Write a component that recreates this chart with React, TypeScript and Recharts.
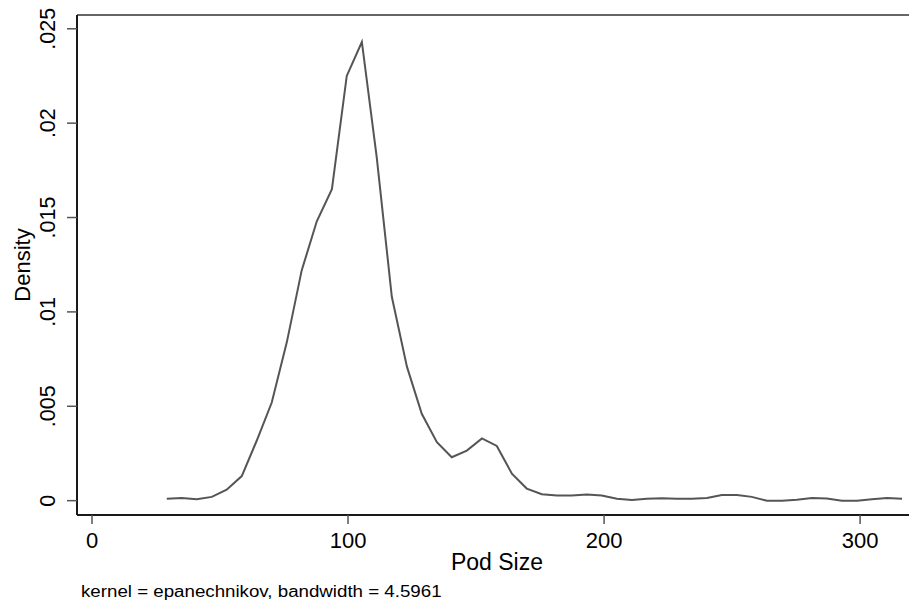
import { LineChart, Line, XAxis, YAxis, ReferenceLine } from 'recharts'

// kernel density estimate, evaluated at 50 points
const podSize = [
  29.2, 35.1, 40.9, 46.8, 52.6, 58.5, 64.4, 70.2, 76.1, 81.9,
  87.8, 93.7, 99.5, 105.4, 111.2, 117.1, 123.0, 128.8, 134.7, 140.5,
  146.4, 152.3, 158.1, 164.0, 169.8, 175.7, 181.6, 187.4, 193.3, 199.1,
  205.0, 210.9, 216.7, 222.6, 228.4, 234.3, 240.2, 246.0, 251.9, 257.7,
  263.6, 269.5, 275.3, 281.2, 287.0, 292.9, 298.8, 304.6, 310.5, 316.4,
]

const density = [
  0.0001, 0.00014, 0.00007, 0.0002, 0.00058, 0.0013, 0.0032, 0.0052, 0.0084, 0.0122,
  0.0148, 0.0165, 0.0225, 0.0243, 0.0182, 0.0108, 0.0071, 0.0046, 0.0031, 0.0023,
  0.00265, 0.0033, 0.0029, 0.00143, 0.00064, 0.00034, 0.00027, 0.00027, 0.00032, 0.00027,
  0.0001, 0.00004, 0.0001, 0.00013, 0.0001, 0.0001, 0.00014, 0.0003, 0.0003, 0.0002,
  0, 0, 0.00005, 0.00014, 0.00012, 0, 0, 0.00007, 0.00014, 0.0001,
]

const xTicks = [0, 100, 200, 300]
const yTicks = [0, 0.005, 0.01, 0.015, 0.02, 0.025]

const X_DOMAIN: [number, number] = [-5.86, 319.1]
const Y_DOMAIN: [number, number] = [-0.00076, 0.02573]

const FONT = '"Liberation Sans", Arial, sans-serif'

const fmtY = (v: number) => (v === 0 ? '0' : String(v).replace(/^0/, ''))

function YTick(props: any) {
  const { y, payload } = props
  const bx = 55.5
  return (
    <text
      x={bx}
      y={y}
      transform={`rotate(-90, ${bx}, ${y})`}
      textAnchor="middle"
      fontSize={21.5}
      fontFamily={FONT}
      fill="#000"
    >
      {fmtY(payload.value)}
    </text>
  )
}

function XTick(props: any) {
  const { x, payload } = props
  return (
    <text x={x} y={548} textAnchor="middle" fontSize={22} fontFamily={FONT} fill="#000">
      {payload.value}
    </text>
  )
}

export default function App() {
  const rows = podSize.map((x, i) => ({ x, y: density[i] }))

  return (
    <div style={{ position: 'absolute', left: 0, top: 0, width: 909, height: 607, background: '#fff' }}>
      <LineChart width={909} height={607} data={rows} margin={{ top: 15, right: 0, bottom: 0, left: 0 }}>
        <XAxis
          dataKey="x"
          type="number"
          domain={X_DOMAIN}
          ticks={xTicks}
          allowDataOverflow
          height={92}
          axisLine={{ stroke: '#1a1a1a', strokeWidth: 2 }}
          tickLine={{ stroke: '#555', strokeWidth: 1.5 }}
          tickSize={9}
          tick={<XTick />}
        />
        <YAxis
          type="number"
          domain={Y_DOMAIN}
          ticks={yTicks}
          allowDataOverflow
          width={77}
          axisLine={{ stroke: '#1a1a1a', strokeWidth: 2 }}
          tickLine={{ stroke: '#555', strokeWidth: 1.5 }}
          tickSize={10}
          tick={<YTick />}
        />
        <ReferenceLine y={Y_DOMAIN[1]} stroke="#333" strokeWidth={1.5} ifOverflow="visible" />
        <Line
          dataKey="y"
          type="linear"
          stroke="#555"
          strokeWidth={2}
          dot={false}
          isAnimationActive={false}
        />
        <text
          x={30}
          y={265}
          transform="rotate(-90, 30, 265)"
          textAnchor="middle"
          fontSize={22}
          fontFamily={FONT}
          fill="#000"
        >
          Density
        </text>
        <text x={497} y={570} textAnchor="middle" fontSize={23} fontFamily={FONT} fill="#000">
          Pod Size
        </text>
        {/* the note is wider than it is tall in the reference */}
        <text
          x={0}
          y={0}
          transform="translate(81, 597) scale(1.2, 1)"
          fontSize={15.6}
          fontFamily={FONT}
          fill="#000"
        >
          kernel = epanechnikov, bandwidth = 4.5961
        </text>
      </LineChart>
    </div>
  )
}
